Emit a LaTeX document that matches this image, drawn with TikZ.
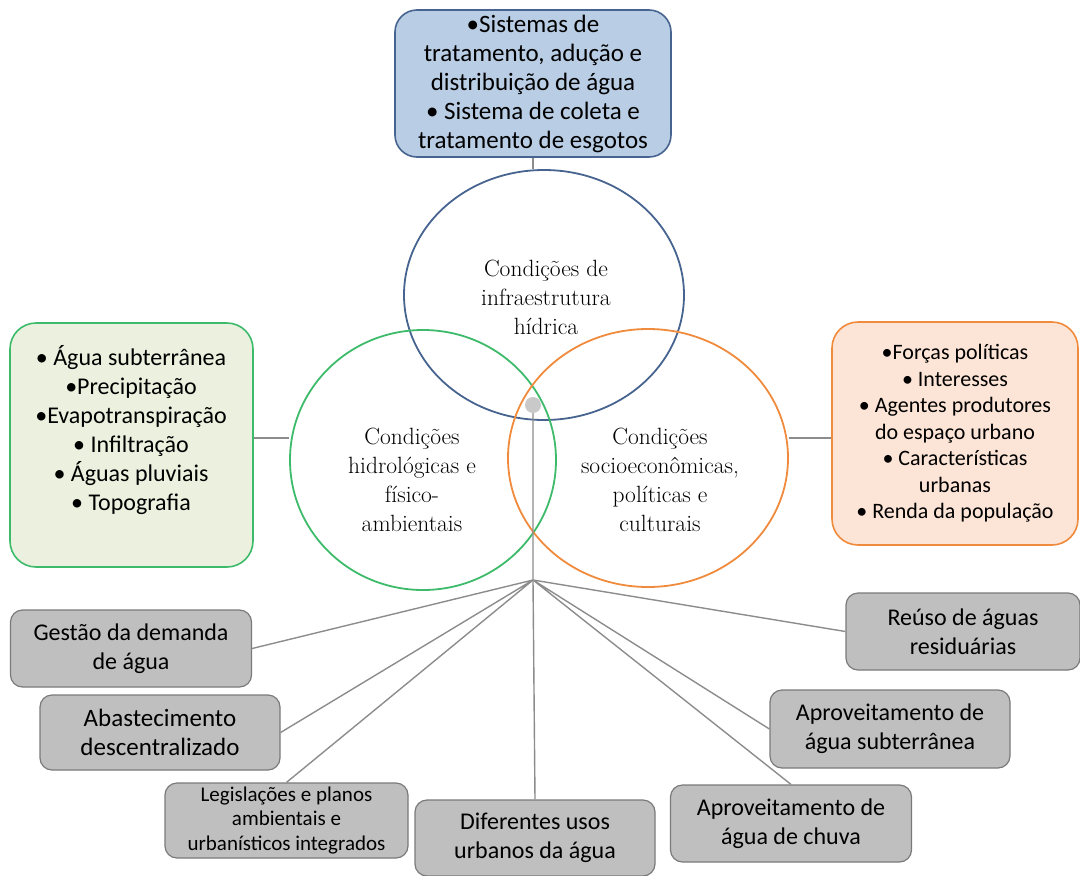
\documentclass[tikz,border=0pt]{standalone}
\usepackage{fontspec}
\newfontfamily\boxfont{Carlito}
\usetikzlibrary{positioning, shapes.geometric}
\definecolor{infrafill}{HTML}{B9CDE5}
\definecolor{infraline}{HTML}{46648F}
\definecolor{greenline}{HTML}{3DBB6A}
\definecolor{greenfill}{HTML}{EBF1DE}
\definecolor{orangeline}{HTML}{F08A3C}
\definecolor{orangefill}{HTML}{FCE4D6}
\definecolor{grayfill}{HTML}{BFBFBF}
\definecolor{grayline}{HTML}{7A7A7A}
\definecolor{linkgray}{HTML}{8C8C8C}
\tikzset{
x=1pt, y=-1pt, % one unit is one pixel of the sketch, y grows downwards
every node/.style={align=center, inner sep=0pt}, % all texts are centred
ring/.style={ellipse, line width=1.8pt}, % the three big circles
ringtext/.style={font=\fontsize{23.5}{29}\selectfont}, % serif text inside circles
listbox/.style={rounded corners=26pt, line width=1.6pt, font=\boxfont\fontsize{24}{29}\selectfont},
graybox/.style={draw=grayline, fill=grayfill, rounded corners=12pt, line width=1.2pt,
  minimum width=241pt, minimum height=77pt, font=\boxfont\fontsize{24}{29}\selectfont},
link/.style={draw=linkgray, line width=1.4pt}, % connector lines
}

\begin{document}
\begin{tikzpicture}
        \useasboundingbox (0,0) rectangle (1080,876);

        % the three circles
        \node[ring, draw=infraline, minimum width=280pt, minimum height=250pt] (infra) at (544,295) {};
        \node[ring, draw=greenline, minimum width=266pt, minimum height=260pt] (hidro) at (423,460) {};
        \node[ring, draw=orangeline, minimum width=280pt, minimum height=258pt] (socio) at (648,458) {};
        \node[ringtext] (infralab) at (546,297) {Condições de\\infraestrutura\\hídrica};
        \node[ringtext] (hidrolab) at (412,480) {Condições\\hidrológicas e\\físico-\\ambientais};
        \node[ringtext] (sociolab) at (660,480) {Condições\\socioeconômicas,\\políticas e\\culturais};

        % boxes with lists
        \node[listbox, draw=infraline, fill=infrafill, rounded corners=22pt, minimum width=276pt, minimum height=147pt,
          font=\boxfont\fontsize{25}{29}\selectfont] (sist) at (533,83.5)
          {•Sistemas de\\tratamento, adução e\\distribuição de água\\• Sistema de coleta e\\tratamento de esgotos};
        \node[listbox, draw=greenline, fill=greenfill, minimum width=243pt, minimum height=244pt] (agua) at (131.5,445) {};
        \node (agualist) at (131,430) {};
        \node[font=\boxfont\fontsize{24}{29}\selectfont] at (agualist)
          {• Água subterrânea\\•Precipitação\\•Evapotranspiração\\• Infiltração\\• Águas pluviais\\• Topografia};
        \node[listbox, draw=orangeline, fill=orangefill, minimum width=246pt, minimum height=223pt,
          font=\boxfont\fontsize{22}{26.5}\selectfont] (forcas) at (955,433.5)
          {•Forças políticas\\• Interesses\\• Agentes produtores\\do espaço urbano\\• Características\\urbanas\\• Renda da população};

        % gray boxes
        \node[graybox] (gestao) at (131,648.5) {Gestão da demanda\\de água};
        \node[graybox, minimum width=240pt, minimum height=75pt, font=\boxfont\fontsize{25}{29}\selectfont] (abast) at (160,732.5) {Abastecimento\\descentralizado};
        \node[graybox, minimum width=243pt, minimum height=75pt, font=\boxfont\fontsize{21}{24.5}\selectfont] (legis) at (286.5,820.5) {Legislações e planos\\ambientais e\\urbanísticos integrados};
        \node[graybox, minimum width=240pt, minimum height=76pt] (usos) at (535,838) {Diferentes usos\\urbanos da água};
        \node[graybox] (chuva) at (791,823.5) {Aproveitamento de\\água de chuva};
        \node[graybox, minimum width=240pt, minimum height=78pt] (subt) at (890,729) {Aproveitamento de\\água subterrânea};
        \node[graybox, minimum width=234pt] (reuso) at (963,631.5) {Reúso de águas\\residuárias};

        % connectors
        \coordinate (hub) at (533,580);
        \coordinate (dotc) at (533,405);
        \draw[link] (sist.south) -- (sist.south |- infra.north);
        \draw[link] (agua.east |- 0,438) -- (hidro.west |- 0,438);
        \draw[link] (socio.east |- 0,438) -- (forcas.west |- 0,438);
        \draw[link] (dotc) -- (hub) -- (usos.north);
        \draw[link] (hub) -- (gestao.east)
          (hub) -- (abast.east)
          (hub) -- (legis.north)
          (hub) -- (chuva.north)
          (hub) -- (subt.west)
          (hub) -- (reuso.west);
        \node[circle, fill=grayfill!85!white, minimum size=16pt] (dot) at (dotc) {};
      \end{tikzpicture}
\end{document}
